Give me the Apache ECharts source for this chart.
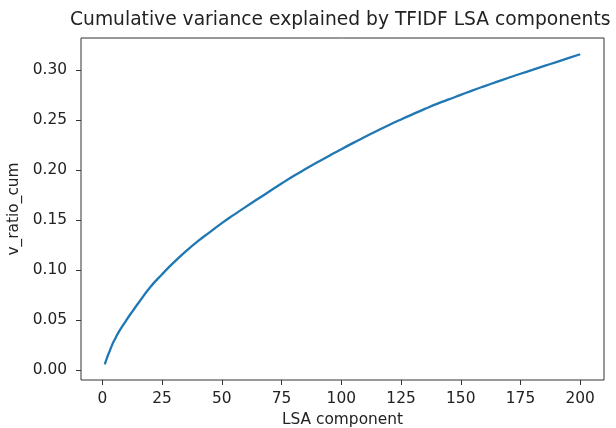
<!DOCTYPE html>
<html>
<head>
<meta charset="utf-8">
<script src="https://cdn.jsdelivr.net/npm/echarts@6/dist/echarts.min.js"></script>
<style>
  html, body { margin: 0; padding: 0; background: #fff; }
  #main { width: 616px; height: 428px; }
</style>
</head>
<body>
<div id="main"></div>
<script>
// LSA component index and cumulative explained variance
var components = [1, 2, 3, 4, 5, 7, 10, 12, 15, 20, 25, 30, 35, 40, 45, 50, 55, 60, 65, 70,
  75, 80, 85, 90, 95, 100, 105, 110, 115, 120, 125, 130, 135, 140, 145, 150, 155, 160,
  165, 170, 175, 180, 185, 190, 195, 200];
var vRatioCum = [0.006, 0.013, 0.019, 0.025, 0.030, 0.039, 0.050, 0.057, 0.067, 0.083,
  0.096, 0.108, 0.119, 0.129, 0.138, 0.147, 0.1552, 0.1632, 0.171, 0.1788, 0.1865, 0.194,
  0.201, 0.2077, 0.2143, 0.2208, 0.2271, 0.2332, 0.2392, 0.245, 0.2505, 0.2558, 0.261, 0.266,
  0.2706, 0.275, 0.2795, 0.2838, 0.288, 0.2921, 0.2961, 0.300, 0.3039, 0.3078, 0.3117, 0.3156];

var xTicks = [0, 25, 50, 75, 100, 125, 150, 175, 200];
var yTicks = [0, 0.05, 0.10, 0.15, 0.20, 0.25, 0.30];

var font = 'DejaVu Sans';
var ink = '#222';

var points = components.map(function (c, i) {
  return [c, vRatioCum[i]];
});

var chart = echarts.init(document.getElementById('main'), null, { renderer: 'canvas' });

var option = {
  backgroundColor: '#fff',
  animation: false,
  title: {
    text: 'Cumulative variance explained by TFIDF LSA components',
    left: 70,
    top: 11,
    padding: 0,
    textStyle: { fontFamily: font, fontSize: 18.7, fontWeight: 'normal', color: ink }
  },
  grid: {
    left: 81,
    right: 12,
    top: 38,
    bottom: 48,
    show: true,
    borderColor: '#333',
    borderWidth: 1,
    outerBoundsMode: 'none'
  },
  xAxis: {
    type: 'value',
    min: -8.95,
    max: 209.95,
    name: 'LSA component',
    nameLocation: 'middle',
    nameGap: 32,
    nameTextStyle: { fontFamily: font, fontSize: 15.4, color: ink },
    axisLine: { show: false, onZero: false },
    splitLine: { show: false },
    axisTick: {
      show: true,
      length: 5,
      customValues: xTicks,
      lineStyle: { color: '#333', width: 1 }
    },
    axisLabel: {
      customValues: xTicks,
      margin: 11,
      fontFamily: font,
      fontSize: 15.4,
      color: ink
    }
  },
  yAxis: {
    type: 'value',
    min: -0.0096,
    max: 0.3318,
    name: 'v_ratio_cum',
    nameLocation: 'middle',
    nameGap: 53,
    nameTextStyle: { fontFamily: font, fontSize: 15.4, color: ink },
    axisLine: { show: false, onZero: false },
    splitLine: { show: false },
    axisTick: {
      show: true,
      length: 5,
      customValues: yTicks,
      lineStyle: { color: '#333', width: 1 }
    },
    axisLabel: {
      customValues: yTicks,
      margin: 14,
      fontFamily: font,
      fontSize: 15.4,
      color: ink,
      formatter: function (v) { return v.toFixed(2); }
    }
  },
  series: [{
    type: 'line',
    data: points,
    smooth: true,
    showSymbol: false,
    lineStyle: { color: '#1f77b4', width: 2.3 }
  }]
};

chart.setOption(option);
</script>
</body>
</html>
